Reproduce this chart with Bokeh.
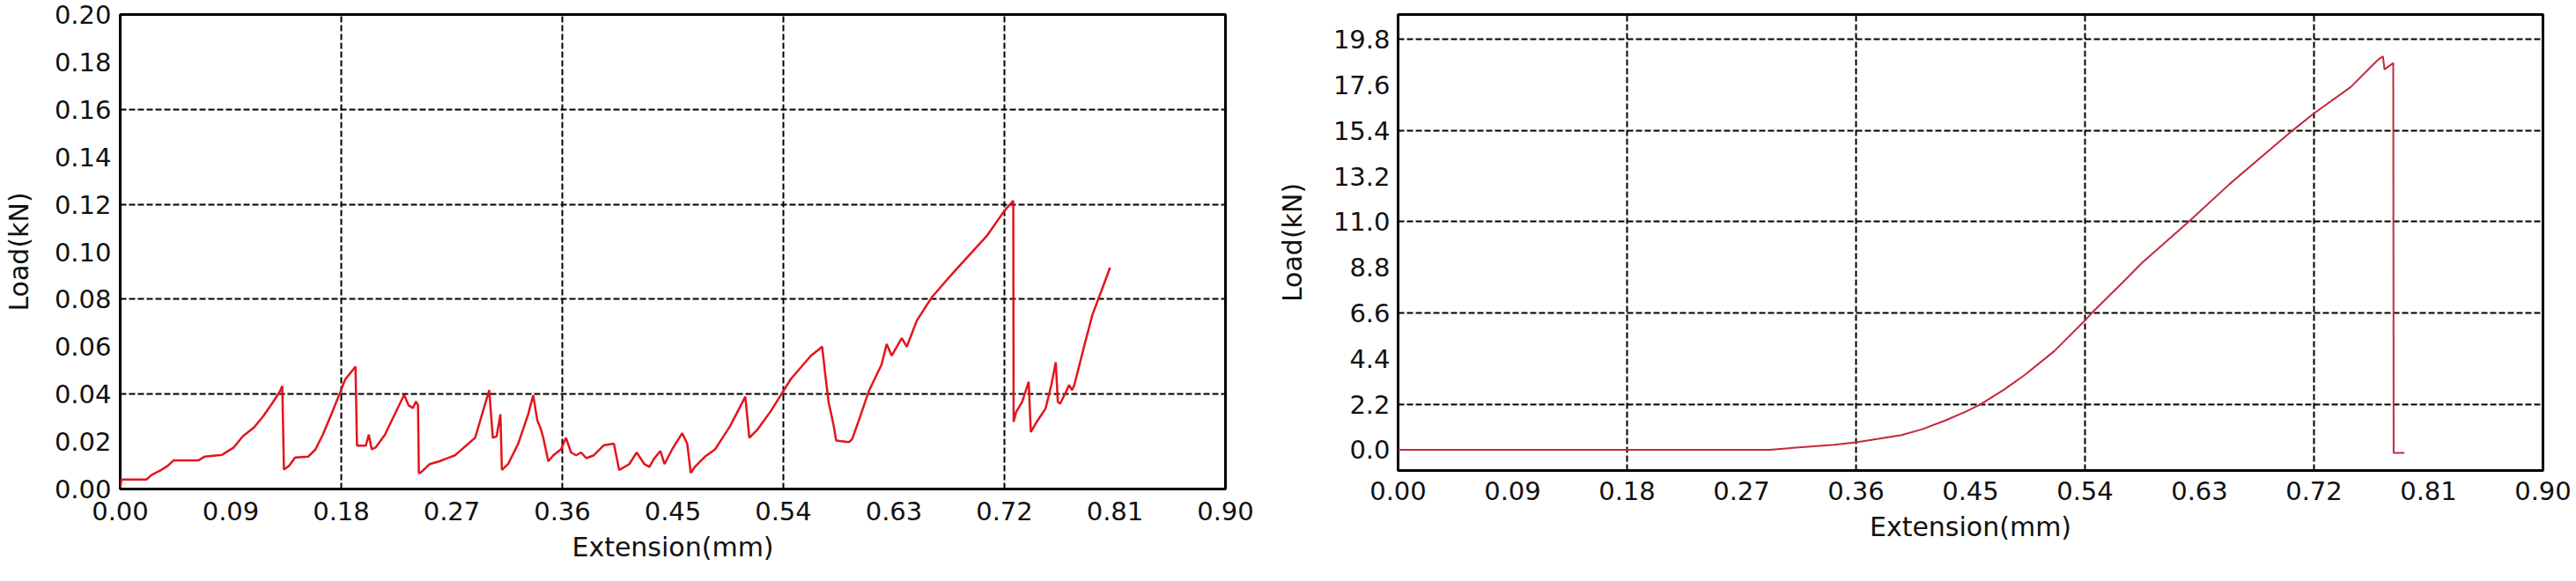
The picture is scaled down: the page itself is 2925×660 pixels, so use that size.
from bokeh.plotting import figure
from bokeh.layouts import row
from bokeh.models import Range1d, FixedTicker, PrintfTickFormatter
from bokeh.embed import file_html
from bokeh.resources import INLINE

# ---------------- data ----------------
ext_a = [0.0, 0.001, 0.0213, 0.0255, 0.0327, 0.0387, 0.0435, 0.0638, 0.0686, 0.0829,
         0.0877, 0.0925, 0.0997, 0.109, 0.1165, 0.1237, 0.1297, 0.132, 0.1333, 0.1376,
         0.1424, 0.153, 0.159, 0.165, 0.1725, 0.1797, 0.1832, 0.1916, 0.1928, 0.200,
         0.2024, 0.2048, 0.208, 0.2156, 0.2228, 0.2312, 0.2348, 0.2384, 0.2408, 0.2425,
         0.2432, 0.2445, 0.252, 0.260, 0.2725, 0.2766, 0.289, 0.3005, 0.3034, 0.3065,
         0.3096, 0.3108, 0.3158, 0.324, 0.3322, 0.3363, 0.3396, 0.3425, 0.3445, 0.3486,
         0.3527, 0.3589, 0.363, 0.3671, 0.3712, 0.3753, 0.3795, 0.3856, 0.3939, 0.402,
         0.4063, 0.4145, 0.4206, 0.4268, 0.4309, 0.435, 0.4399, 0.4432, 0.4494, 0.4576,
         0.4617, 0.4646, 0.4679, 0.4761, 0.4844, 0.4967, 0.509, 0.5123, 0.5193, 0.5296,
         0.5378, 0.546, 0.5563, 0.5625, 0.5687, 0.5716, 0.574, 0.5769, 0.579, 0.581,
         0.583, 0.5935, 0.596, 0.6015, 0.6097, 0.62, 0.6241, 0.6282, 0.6364, 0.6405,
         0.6487, 0.661, 0.6734, 0.6794, 0.7057, 0.72, 0.7272, 0.7275, 0.7296, 0.7344,
         0.7398, 0.7415, 0.7463, 0.7535, 0.7582, 0.7618, 0.7635, 0.7654, 0.7702, 0.7726,
         0.775, 0.7769, 0.7797, 0.7845, 0.7917, 0.7989, 0.806]
load_a = [0.0005, 0.004, 0.004, 0.0059, 0.0078, 0.0098, 0.0121, 0.0121, 0.0136, 0.0144,
          0.016, 0.0175, 0.0222, 0.026, 0.0307, 0.0361, 0.0408, 0.0434, 0.0082, 0.0098,
          0.0133, 0.0136, 0.0167, 0.0229, 0.0322, 0.0415, 0.0462, 0.0516, 0.0183, 0.0183,
          0.0229, 0.0167, 0.0175, 0.0229, 0.0307, 0.0397, 0.0353, 0.0341, 0.0369, 0.0353,
          0.0067, 0.0068, 0.0105, 0.0117, 0.0142, 0.016, 0.0216, 0.0417, 0.0216, 0.0222,
          0.0315, 0.008, 0.0105, 0.019, 0.0315, 0.0395, 0.029, 0.0253, 0.0216, 0.0117,
          0.0142, 0.0167, 0.0216, 0.0154, 0.0142, 0.0154, 0.013, 0.0142, 0.0185, 0.0191,
          0.008, 0.0105, 0.0154, 0.0105, 0.0093, 0.013, 0.016, 0.0105, 0.0167, 0.0235,
          0.0191, 0.0068, 0.0093, 0.0136, 0.0167, 0.0266, 0.0389, 0.0216, 0.0253, 0.0327,
          0.0395, 0.0463, 0.0525, 0.0562, 0.0587, 0.060, 0.0488, 0.0364, 0.0315, 0.0266,
          0.0204, 0.0198, 0.021, 0.029, 0.0414, 0.0525, 0.0611, 0.0562, 0.0636, 0.060,
          0.071, 0.0809, 0.0883, 0.0918, 0.1067, 0.1173, 0.1215, 0.0283, 0.0325, 0.0367,
          0.0452, 0.024, 0.0283, 0.0339, 0.0438, 0.0534, 0.0367, 0.036, 0.041, 0.0438,
          0.0417, 0.0438, 0.0495, 0.0593, 0.0735, 0.0834, 0.0933]

ext_b = [0.0, 0.10, 0.20, 0.292, 0.3196, 0.3427, 0.36, 0.3773, 0.3958, 0.412, 0.4304,
         0.4466, 0.4581, 0.4766, 0.4928, 0.5158, 0.54, 0.5453, 0.570, 0.5845, 0.6214,
         0.6538, 0.70, 0.72, 0.7489, 0.7673, 0.7708, 0.7742, 0.7754, 0.7823, 0.7826,
         0.784, 0.791]
load_b = [0.0, 0.0, 0.0, 0.0, 0.14, 0.24, 0.355, 0.525, 0.71, 0.99, 1.42,
          1.85, 2.2, 2.91, 3.62, 4.76, 6.24, 6.6, 8.1, 9.0, 11.0,
          12.83, 15.25, 16.23, 17.5, 18.63, 18.84, 18.98, 18.35, 18.66, -0.15,
          -0.15, -0.15]

x_ticks = [0.00, 0.09, 0.18, 0.27, 0.36, 0.45, 0.54, 0.63, 0.72, 0.81, 0.90]
x_grid = [0.18, 0.36, 0.54, 0.72]
ya_ticks = [0.00, 0.02, 0.04, 0.06, 0.08, 0.10, 0.12, 0.14, 0.16, 0.18, 0.20]
ya_grid = [0.04, 0.08, 0.12, 0.16]
yb_ticks = [0.0, 2.2, 4.4, 6.6, 8.8, 11.0, 13.2, 15.4, 17.6, 19.8]
yb_grid = [2.2, 6.6, 11.0, 15.4, 19.8]

x_label = "Extension(mm)"
y_label = "Load(kN)"

FONT = "DejaVu Sans"


def make_fig(xs, ys, y_rng, y_ticks, y_grid, y_fmt, color, lw,
             fw, fh, bl, br, bt, bb, xstand, xlab_stand, ystand, ylab_stand):
    p = figure(frame_width=fw, frame_height=fh,
               x_range=Range1d(0, 0.9), y_range=Range1d(*y_rng),
               output_backend="svg", toolbar_location=None, title=None,
               min_border_left=bl, min_border_right=br,
               min_border_top=bt, min_border_bottom=bb)
    p.background_fill_color = "white"
    p.border_fill_color = "white"
    p.outline_line_color = "black"
    p.outline_line_width = 3
    p.outline_line_alpha = 1.0

    p.line(xs, ys, line_color=color, line_width=lw)

    p.xaxis.ticker = FixedTicker(ticks=x_ticks)
    p.xaxis.formatter = PrintfTickFormatter(format="%.2f")
    p.yaxis.ticker = FixedTicker(ticks=y_ticks)
    p.yaxis.formatter = PrintfTickFormatter(format=y_fmt)
    for ax in (p.xaxis, p.yaxis):
        ax.axis_line_color = None
        ax.major_tick_line_color = None
        ax.minor_tick_line_color = None
        ax.major_tick_out = 0
        ax.major_tick_in = 0
        ax.major_label_text_font = FONT
        ax.major_label_text_font_size = "29px"
        ax.major_label_text_color = "#111111"
        ax.axis_label_text_font = FONT
        ax.axis_label_text_font_style = "normal"
        ax.axis_label_text_color = "#111111"
    p.xaxis.axis_label = x_label
    p.yaxis.axis_label = y_label
    p.xaxis.axis_label_text_font_size = "30px"
    p.yaxis.axis_label_text_font_size = "30px"
    p.xaxis.major_label_standoff = xstand
    p.xaxis.axis_label_standoff = xlab_stand
    p.yaxis.major_label_standoff = ystand
    p.yaxis.axis_label_standoff = ylab_stand

    p.xgrid.ticker = FixedTicker(ticks=x_grid)
    p.ygrid.ticker = FixedTicker(ticks=y_grid)
    for g in (p.xgrid, p.ygrid):
        g.grid_line_color = "black"
        g.grid_line_width = 2
        g.grid_line_dash = "7 3"
        g.grid_line_alpha = 1.0
    return p


p1 = make_fig(ext_a, load_a, (0, 0.2), ya_ticks, ya_grid, "%.2f", "#e3141c", 2.5,
              1255, 539, 130, 47, 11, 94, 14, 10, 10, 20)
p2 = make_fig(ext_b, load_b, (-1, 21), yb_ticks, yb_grid, "%.1f", "#c4283a", 2,
              1300, 518, 149, 33, 16, 91, 12, 10, 9, 26)

layout = row(p1, p2)
open("out.html", "w").write(file_html(layout, INLINE))
